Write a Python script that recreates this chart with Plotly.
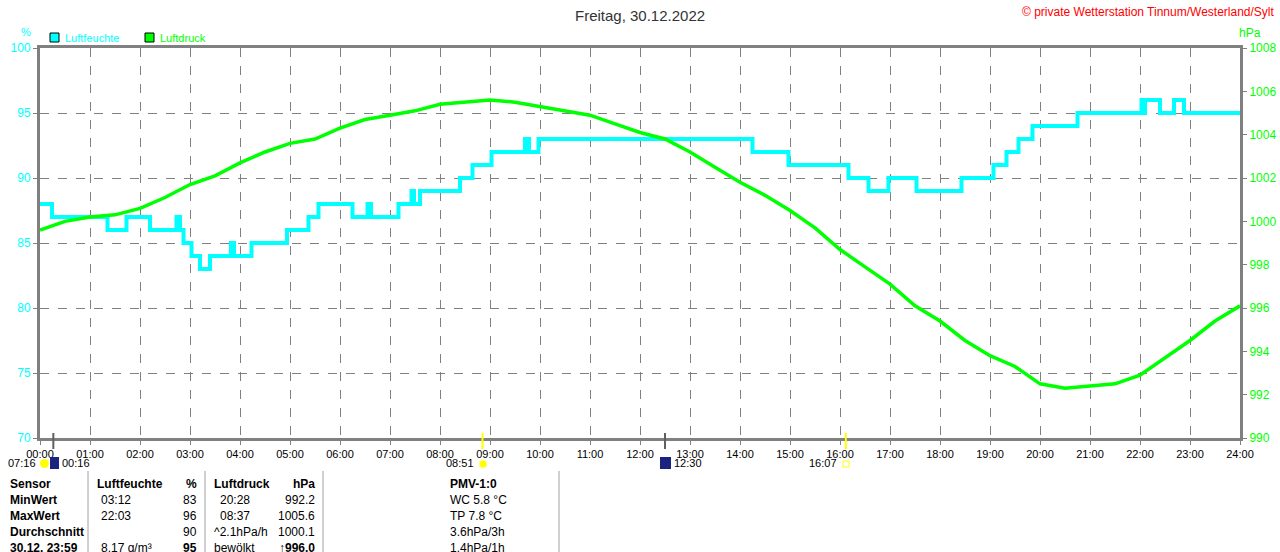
import plotly.graph_objects as go

# --- data ---
hum_times = [0, 0.24, 1.35, 1.73, 2.2, 2.73, 2.8, 2.87, 3.03, 3.2, 3.4, 3.82, 3.88,
             4.23, 4.94, 5.37, 5.57, 6.25, 6.55, 6.62, 7.17, 7.43, 7.48, 7.6,
             8.4, 8.65, 9.03, 9.7, 9.78, 9.97, 14.25, 14.97, 16.17, 16.57, 16.97,
             17.53, 18.43, 19.07, 19.33, 19.57, 19.85, 20.75, 22.03, 22.07, 22.1,
             22.4, 22.68, 22.88, 24]
hum_values = [88, 87, 86, 87, 86, 87, 86, 85, 84, 83, 84, 85, 84,
              85, 86, 87, 88, 87, 88, 87, 88, 89, 88, 89,
              90, 91, 92, 93, 92, 93, 92, 91, 90, 89, 90,
              89, 90, 91, 92, 93, 94, 95, 96, 95, 96,
              95, 96, 95, 95]

press_times = [i * 0.5 for i in range(49)]
press_values = [999.6, 1000.0, 1000.2, 1000.3, 1000.6, 1001.1, 1001.7, 1002.1,
                1002.7, 1003.2, 1003.6, 1003.8, 1004.3, 1004.7, 1004.9, 1005.1,
                1005.4, 1005.5, 1005.6, 1005.5, 1005.3, 1005.1, 1004.9, 1004.5,
                1004.1, 1003.8, 1003.2, 1002.5, 1001.8, 1001.2, 1000.5, 999.7,
                998.7, 997.9, 997.1, 996.1, 995.4, 994.5, 993.8, 993.3,
                992.5, 992.3, 992.4, 992.5, 992.9, 993.7, 994.5, 995.4, 996.1]

hour_ticks = list(range(25))
hour_labels = [f"{h:02d}:00" for h in hour_ticks]

# sun / moon events below the time axis
event_times = [16 / 60, 8 + 51 / 60, 12.5, 16 + 7 / 60]
event_colors = ['#606060', '#ffff00', '#606060', '#ffff00']

table_rows = ["Sensor", "MinWert", "MaxWert", "Durchschnitt", "30.12. 23:59"]
hum_col_a = ["Luftfeuchte", "03:12", "22:03", "", "8.17 g/m³"]
hum_col_b = ["%", "83", "96", "90", "95"]
press_col_a = ["Luftdruck", "20:28", "08:37", "^2.1hPa/h", "bewölkt"]
press_col_b = ["hPa", "992.2", "1005.6", "1000.1", "↑996.0"]
pmv_col = ["PMV-1:0", "WC 5.8 °C", "TP 7.8 °C", "3.6hPa/3h", "1.4hPa/1h"]

CYAN = '#00ffff'
GREEN = '#00ff00'
GRID = '#808080'
FONT = 'Liberation Sans'


# pixel -> paper helpers (plot area is x 40..1240, y 48..438)
def px(x):
    return (x - 40) / 1200


def py(y):
    return (438 - y) / 390


def label(txt, x, y, anchor='center', size=11, color='black'):
    return dict(text=txt, x=px(x), y=py(y), xref='paper', yref='paper',
                xanchor=anchor, yanchor='middle', showarrow=False,
                font=dict(size=size, color=color))


fig = go.Figure()

fig.add_trace(go.Scatter(
    x=hum_times, y=hum_values, mode='lines', line_shape='hv',
    line=dict(color=CYAN, width=4), name='Luftfeuchte', yaxis='y'))

fig.add_trace(go.Scatter(
    x=press_times, y=press_values, mode='lines',
    line=dict(color=GREEN, width=3.5), name='Luftdruck', yaxis='y2'))

fig.update_layout(
    width=1280, height=552,
    margin=dict(l=40, r=40, t=48, b=114),
    paper_bgcolor='white', plot_bgcolor='white',
    showlegend=False,
    font=dict(family=FONT, size=11, color='black'),
    xaxis=dict(range=[0, 24], tickvals=hour_ticks, ticktext=hour_labels,
               showgrid=True, gridcolor=GRID, griddash='dash', gridwidth=1,
               showline=True, linecolor=GRID, linewidth=3, mirror=True,
               ticks='outside', ticklen=4, tickcolor=GRID, zeroline=False,
               automargin=False,
               tickfont=dict(family=FONT, size=11, color='black')),
    yaxis=dict(range=[70, 100], dtick=5,
               showgrid=True, gridcolor=GRID, griddash='dash', gridwidth=1,
               showline=True, linecolor=GRID, linewidth=3,
               ticks='outside', ticklen=4, tickcolor=GRID, zeroline=False,
               automargin=False,
               tickfont=dict(family=FONT, size=12, color=CYAN)),
    yaxis2=dict(range=[990, 1008], dtick=2, overlaying='y', side='right',
                showgrid=False, showline=True, linecolor=GRID, linewidth=3,
                ticks='outside', ticklen=4, tickcolor=GRID, zeroline=False,
                automargin=False,
                tickfont=dict(family=FONT, size=12, color=GREEN)),
)

ann = []
shapes = []

# title and header texts
ann.append(label("Freitag, 30.12.2022", 640, 15, size=15, color='#333333'))
ann.append(label("© private Wetterstation Tinnum/Westerland/Sylt", 1277, 12,
                 anchor='right', size=12, color='#ff0000'))
ann.append(label("%", 26, 32, color=CYAN))
ann.append(label("hPa", 1250, 33, size=12, color=GREEN))

# legend boxes
for lx, col, name in [(50, CYAN, "Luftfeuchte"), (145, GREEN, "Luftdruck")]:
    shapes.append(dict(type='rect', xref='paper', yref='paper',
                       x0=px(lx), x1=px(lx + 9), y0=py(42), y1=py(33),
                       fillcolor=col, line=dict(color='black', width=1)))
    ann.append(label(name, lx + 13, 38, anchor='left', color=col))

# event ticks on the time axis
for t, col in zip(event_times, event_colors):
    shapes.append(dict(type='line', xref='x', yref='paper', x0=t, x1=t,
                       y0=py(433), y1=py(449), line=dict(color=col, width=2)))

# event labels and icons
ann.append(label("07:16", 38, 463, anchor='right'))
shapes.append(dict(type='circle', xref='paper', yref='paper', x0=px(40), x1=px(49),
                   y0=py(468), y1=py(459), fillcolor='#ffff00', line=dict(width=0)))
shapes.append(dict(type='rect', xref='paper', yref='paper', x0=px(50), x1=px(59),
                   y0=py(469), y1=py(457), fillcolor='#1a237e', line=dict(width=0)))
ann.append(label("00:16", 60, 463, anchor='left'))
ann.append(label("08:51", 476, 463, anchor='right'))
shapes.append(dict(type='circle', xref='paper', yref='paper', x0=px(479), x1=px(487),
                   y0=py(468), y1=py(460), fillcolor='#ffff00',
                   line=dict(color='#ffff99', width=1)))
shapes.append(dict(type='rect', xref='paper', yref='paper', x0=px(660), x1=px(671),
                   y0=py(469), y1=py(457), fillcolor='#1a237e', line=dict(width=0)))
ann.append(label("12:30", 672, 463, anchor='left'))
ann.append(label("16:07", 839, 463, anchor='right'))
shapes.append(dict(type='rect', xref='paper', yref='paper', x0=px(843), x1=px(849),
                   y0=py(467), y1=py(461), fillcolor='white',
                   line=dict(color='#ffff00', width=1)))

# table
row_y = [484, 500, 516, 532, 548]
for i, yy in enumerate(row_y):
    bold_row = i == 0
    last_row = i == len(row_y) - 1

    def cell(txt, x, anchor, bold):
        if txt:
            ann.append(label(f"<b>{txt}</b>" if bold else txt, x, yy,
                             anchor=anchor, size=12))

    cell(table_rows[i], 8, 'left', True)
    cell(hum_col_a[i], 95 if bold_row else 99, 'left', bold_row)
    cell(hum_col_b[i], 199, 'right', bold_row or last_row)
    cell(press_col_a[i], 212 if (bold_row or i >= 3) else 218, 'left', bold_row)
    cell(press_col_b[i], 317, 'right', bold_row or last_row)
    cell(pmv_col[i], 448, 'left', bold_row)

for sx in [88, 205, 323, 559]:
    shapes.append(dict(type='line', xref='paper', yref='paper', x0=px(sx), x1=px(sx),
                       y0=py(471), y1=py(560), line=dict(color='#a0a0a0', width=1)))

fig.update_layout(annotations=ann, shapes=shapes)

# the page body margin would push the fixed-size figure off by 8px
fig.write_html("out.html", config={'displayModeBar': False},
               post_script="document.body.style.margin='0';")
